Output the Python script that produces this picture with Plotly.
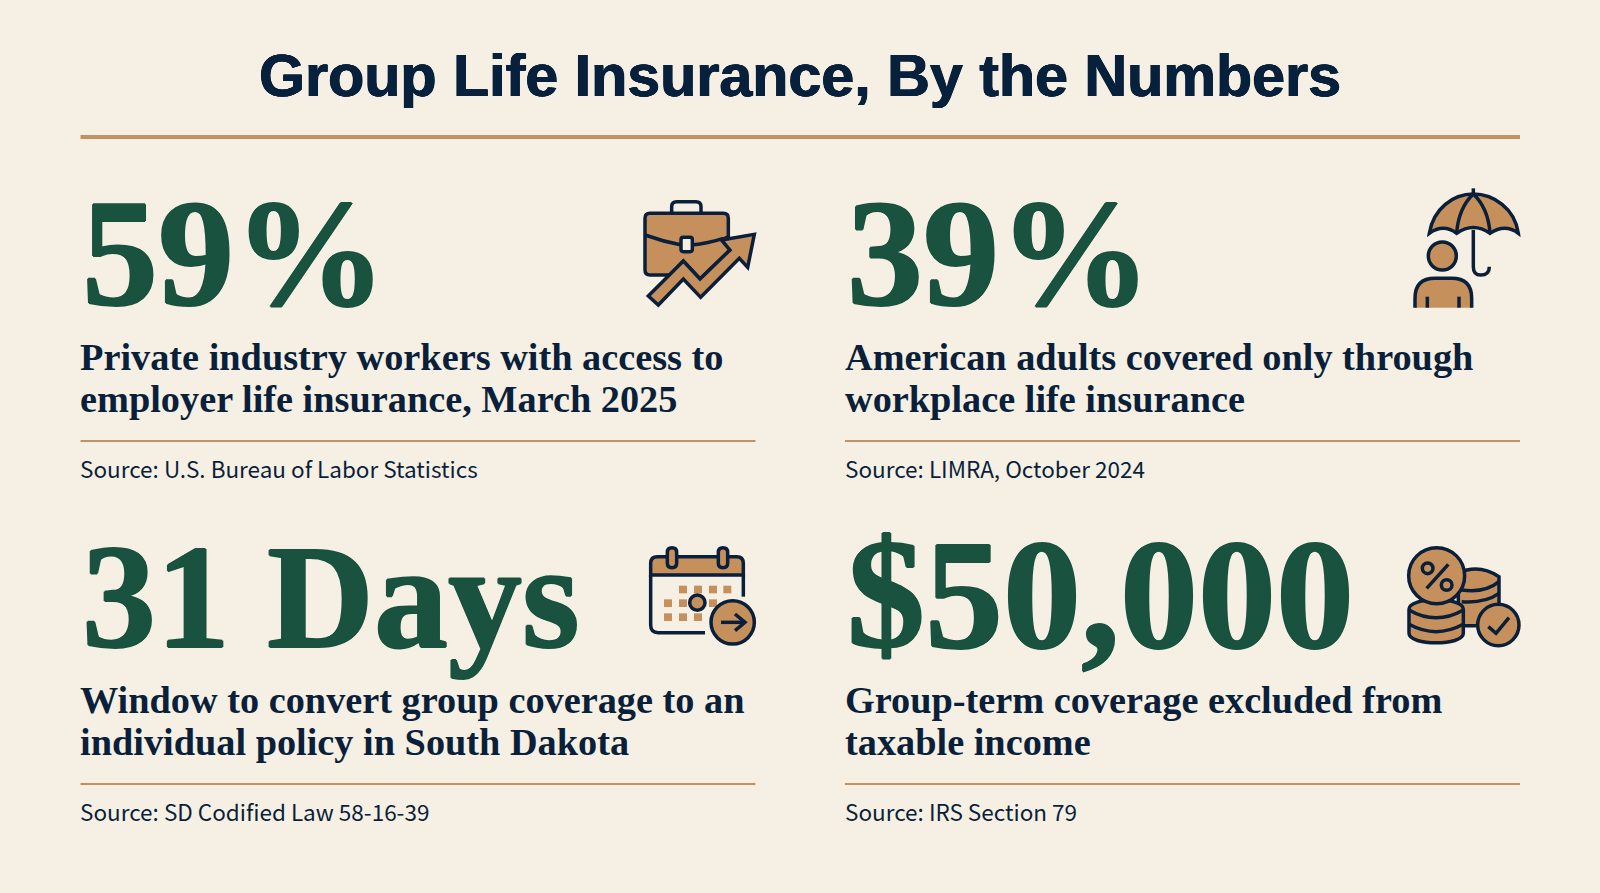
import re
import plotly.graph_objects as go

TITLE = "Group Life Insurance, By the Numbers"
STATS = ["59%", "39%", "31 Days", "$50,000"]
STAT_FONT_SIZES = [152, 152, 148, 156]
LINE_ONE = ["Private industry workers with access to", "American adults covered only through",
            "Window to convert group coverage to an", "Group-term coverage excluded from"]
LINE_TWO = ["employer life insurance, March 2025", "workplace life insurance",
            "individual policy in South Dakota", "taxable income"]
SOURCES = ["Source: U.S. Bureau of Labor Statistics", "Source: LIMRA, October 2024",
           "Source: SD Codified Law 58-16-39", "Source: IRS Section 79"]

BG = "#F6F0E4"
NAVY = "#0A1F3A"
TITLE_NAVY = "#07203C"
GREEN = "#19523F"
TAN = "#C6905C"
RULE = "#C4925F"
SW = 3.5

shapes, ann = [], []


def tf(path, ox, oy):
    def rep(m):
        return f"{ox + float(m.group(1)) / 3:.2f},{oy + float(m.group(2)) / 3:.2f}"
    return re.sub(r"(-?[\d.]+),(-?[\d.]+)", rep, path)


def path(d, ox, oy, fill=None, stroke=NAVY, w=SW):
    s = dict(type="path", path=tf(d, ox, oy), xref="x", yref="y", layer="above")
    s["fillcolor"] = fill if fill else "rgba(0,0,0,0)"
    s["line"] = dict(color=stroke if stroke else "rgba(0,0,0,0)", width=w if stroke else 0)
    shapes.append(s)


def circle(cx, cy, r, ox, oy, fill=None, stroke=NAVY, w=SW):
    shapes.append(dict(type="circle", xref="x", yref="y", layer="above",
                       x0=ox + (cx - r) / 3, x1=ox + (cx + r) / 3,
                       y0=oy + (cy - r) / 3, y1=oy + (cy + r) / 3,
                       fillcolor=fill if fill else "rgba(0,0,0,0)",
                       line=dict(color=stroke if stroke else "rgba(0,0,0,0)", width=w if stroke else 0)))


def rule(x0, x1, y, w, color=RULE):
    shapes.append(dict(type="line", xref="x", yref="y", x0=x0, x1=x1, y0=y, y1=y,
                       line=dict(color=color, width=w)))


def text(x, y, s, family, size, color, weight=400, anchor="left", shadow=None):
    font = dict(family=family, size=size, color=color, weight=weight)
    if shadow:
        font["shadow"] = shadow
    ann.append(dict(x=x, y=y, xref="x", yref="y", text=s, showarrow=False, xanchor=anchor,
                    yanchor="middle", align=anchor, font=font))


# text and rules
TITLE_HEAVY = f"0.6px 0 0 {TITLE_NAVY}, -0.6px 0 0 {TITLE_NAVY}, 0 0.4px 0 {TITLE_NAVY}, 0 -0.4px 0 {TITLE_NAVY}"
text(800, 75, TITLE, "Liberation Sans", 59.2, TITLE_NAVY, 700, "center", shadow=TITLE_HEAVY)
rule(80.5, 1520, 137, 4)

COL_X = [78, 843]
RULE_X = [80.5, 845]
ROW_Y = [0, 343]
SERIF = "Liberation Serif"
HEAVY = f"1px 0 0 {GREEN}, -1px 0 0 {GREEN}, 0 0.6px 0 {GREEN}, 0 -0.6px 0 {GREEN}"
for i in range(4):
    x, dy = COL_X[i % 2], ROW_Y[i // 2]
    size = STAT_FONT_SIZES[i]
    text(x + 2, 254 + dy + (152 - size) * 0.3 - (1 if i // 2 else 0), STATS[i], SERIF, size, GREEN, 700, shadow=HEAVY)
    text(x, 357 + dy, LINE_ONE[i], SERIF, 38.3, NAVY, 700)
    text(x, 399 + dy, LINE_TWO[i], SERIF, 38.3, NAVY, 700)
    rule(RULE_X[i % 2], RULE_X[i % 2] + 675, 441 + dy, 2)
    text(x, 468 + dy, SOURCES[i], "Noto Sans CJK SC", 22.5, NAVY)

# briefcase icon
ox, oy = 620, 180
path("M155,100 L155,80 Q155,65 170,65 L228,65 Q243,65 243,80 L243,100", ox, oy)
path("M90,100 L310,100 Q325,100 325,115 L325,170 L305,180 L330,210 L240,297 L190,243 L150,285 "
     "L90,285 Q75,285 75,270 L75,115 Q75,100 90,100 Z", ox, oy, TAN)
path("M75,165 Q130,185 185,195", ox, oy)
path("M215,195 Q265,190 310,175", ox, oy)
path("M190,172 L210,172 Q217,172 217,179 L217,208 Q217,215 210,215 L190,215 Q183,215 183,208 "
     "L183,179 Q183,172 190,172 Z", ox, oy, BG)
path("M85,348 L190,243 L240,297 L330,210 L305,180 L403,163 L383,262 L358,235 L242,352 L190,297 L115,375 Z",
     ox, oy, TAN)

# umbrella icon
ox, oy = 1390, 180
path("M250,25 L250,42", ox, oy)
path("M250,150 L250,260 Q250,285 272,285 Q298,285 298,260", ox, oy)
path("M118,160 C130,85 190,42 250,42 C310,42 375,85 385,160 Q345,130 300,160 Q250,125 200,160 Q160,130 118,160 Z",
     ox, oy, TAN)
path("M250,42 Q205,85 200,160", ox, oy)
path("M250,42 Q295,85 300,160", ox, oy)
circle(157, 228, 42, ox, oy, TAN)
path("M75,383 L75,355 Q75,295 135,295 L185,295 Q245,295 245,355 L245,383 Z", ox, oy, TAN, None)
path("M75,383 L75,355 Q75,295 135,295 L185,295 Q245,295 245,355 L245,383", ox, oy)
path("M112,350 L112,383", ox, oy)
path("M207,350 L207,383", ox, oy)

# calendar icon
ox, oy = 640, 535
path("M32,120 L32,270 Q32,293 55,293 L195,293", ox, oy)
path("M310,120 L310,185", ox, oy)
path("M32,120 L32,85 Q32,65 52,65 L290,65 Q310,65 310,85 L310,120 Z", ox, oy, TAN)
for rx in (96, 249):
    path(f"M{rx-14},52 Q{rx-14},38 {rx},38 Q{rx+14},38 {rx+14},52 L{rx+14},84 Q{rx+14},98 {rx},98 "
         f"Q{rx-14},98 {rx-14},84 Z", ox, oy, TAN)
for sq_x, sq_y in [(117, 152), (162, 152), (207, 152), (250, 152), (72, 193), (117, 193), (207, 193),
                   (72, 235), (117, 235), (162, 235)]:
    path(f"M{sq_x},{sq_y} L{sq_x+24},{sq_y} L{sq_x+24},{sq_y+23} L{sq_x},{sq_y+23} Z", ox, oy, TAN, None)
circle(172, 203, 23, ox, oy, TAN)
circle(278, 262, 65, ox, oy, TAN)
path("M243,262 L315,262", ox, oy)
path("M285,237 L315,262 L285,287", ox, oy)

# coins icon
ox, oy = 1395, 535
path("M190,115 Q250,85 312,125 L312,240 Q290,270 240,272 L190,272 Z", ox, oy, TAN)
path("M200,165 Q270,175 312,140", ox, oy)
path("M200,200 Q270,205 312,175", ox, oy)
path("M42,222 L42,295 C42,333 205,333 205,295 L205,222 C205,185 42,185 42,222 Z", ox, oy, TAN)
path("M42,225 Q123,272 205,225", ox, oy)
path("M42,268 Q123,312 205,268", ox, oy)
circle(125, 122, 84, ox, oy, TAN)
path("M95,160 L160,88", ox, oy)
circle(98, 100, 16, ox, oy)
circle(155, 150, 16, ox, oy)
circle(310, 270, 62, ox, oy, TAN)
path("M280,275 L303,295 L342,248", ox, oy)

fig = go.Figure()
fig.update_layout(
    width=1600, height=893, margin=dict(l=0, r=0, t=0, b=0),
    paper_bgcolor=BG, plot_bgcolor=BG, showlegend=False,
    xaxis=dict(range=[0, 1600], visible=False, fixedrange=True),
    yaxis=dict(range=[893, 0], visible=False, fixedrange=True),
    shapes=shapes, annotations=ann,
)
fig.write_html("out.html", config=dict(displayModeBar=False),
               post_script=f"document.body.style.margin='0';document.body.style.background='{BG}';")
